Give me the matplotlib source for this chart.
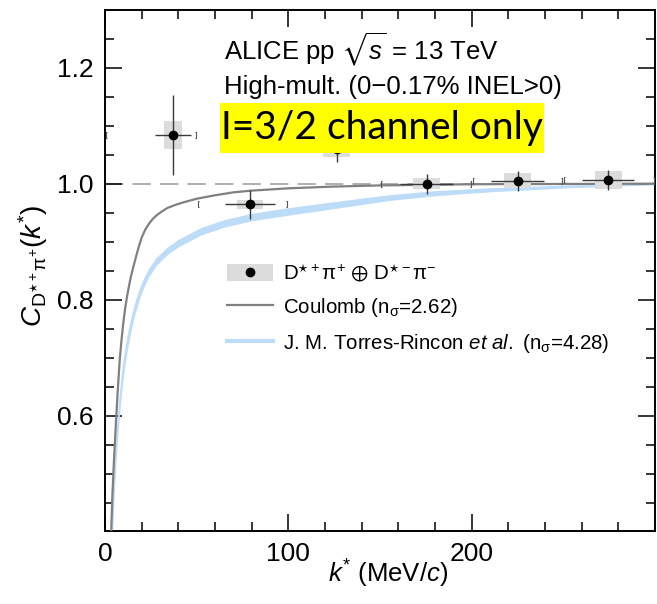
import numpy as np
import matplotlib
matplotlib.use("Agg")
import matplotlib.pyplot as plt
from matplotlib.patches import Rectangle
from matplotlib.path import Path
from matplotlib.lines import Line2D

plt.rcParams['font.family'] = ['Liberation Sans', 'DejaVu Sans']
plt.rcParams['mathtext.fontset'] = 'custom'
plt.rcParams['mathtext.rm'] = 'Liberation Sans'
plt.rcParams['mathtext.it'] = 'Liberation Sans:italic'
plt.rcParams['mathtext.bf'] = 'Liberation Sans:bold'
plt.rcParams['mathtext.sf'] = 'Liberation Sans'
plt.rcParams['mathtext.fallback'] = 'stixsans'

# measured D*+pi+ (+) D*-pi- correlation
k_pts = [37.0, 79.1, 126.4, 175.4, 225.0, 274.5]
c_pts = [1.084, 0.9645, 1.060, 0.9995, 1.0047, 1.0064]
stat_y = [0.069, 0.025, 0.022, 0.018, 0.0165, 0.018]
stat_x = [9.7, 13.8, 14.0, 14.5, 14.3, 14.3]
syst_y = [0.024, 0.008, 0.014, 0.0095, 0.013, 0.016]
syst_x = [4.9, 7.0, 7.5, 7.5, 7.4, 7.3]
bin_lo = [0, 50, 100, 150, 200, 250]
bin_hi = [50, 100, 150, 200, 250, 300]

# Coulomb-only prediction
k_coul = [3.4, 4, 5, 6, 7, 8, 9, 10, 11, 12, 13, 14, 15.5, 17, 18.5, 20, 22,
          24, 26, 28, 31, 34, 38, 43, 50, 60, 70, 80, 100, 125, 150, 200, 300]
c_coul = [0.400, 0.460, 0.530, 0.590, 0.645, 0.695, 0.730, 0.760, 0.785,
          0.805, 0.822, 0.838, 0.857, 0.875, 0.892, 0.907, 0.921, 0.931,
          0.939, 0.945, 0.952, 0.958, 0.963, 0.968, 0.974, 0.980, 0.985,
          0.988, 0.992, 0.995, 0.997, 0.999, 1.0]

# Torres-Rincon et al. band
k_band = [3.6, 4.2, 5, 6, 7, 8, 9, 10, 11, 12, 13, 14, 15.5, 17, 19, 21, 24,
          28, 33.7, 40, 52, 65, 80, 101, 125, 155, 180, 210, 254, 300]
band_hi = [0.41, 0.47, 0.52, 0.57, 0.61, 0.645, 0.675, 0.70, 0.72, 0.738,
           0.754, 0.768, 0.787, 0.803, 0.822, 0.837, 0.855, 0.873, 0.890,
           0.904, 0.924, 0.938, 0.949, 0.959, 0.969, 0.981, 0.988, 0.993,
           0.998, 1.0]
band_lo = [0.35, 0.40, 0.46, 0.52, 0.565, 0.605, 0.638, 0.666, 0.689, 0.709,
           0.727, 0.743, 0.764, 0.782, 0.803, 0.820, 0.840, 0.859, 0.877,
           0.891, 0.911, 0.925, 0.936, 0.946, 0.957, 0.971, 0.979, 0.986,
           0.993, 0.998]

fig = plt.figure(figsize=(6.57, 6.04), dpi=100)
ax = fig.add_axes([105/657, 1-531/604, 550/657, 521/604])

ax.fill_between(k_band, band_lo, band_hi, color='#bddcf8', lw=0, zorder=2)
ax.plot(k_coul, c_coul, color='#808080', lw=1.6, zorder=3)
ax.axhline(1.0, color='#9a9a9a', lw=1.1, dashes=(12, 6), zorder=1)

# systematic boxes
for k, c, sx, sy in zip(k_pts, c_pts, syst_x, syst_y):
    ax.add_patch(Rectangle((k - sx, c - sy), 2*sx, 2*sy, facecolor='#dcdcdc',
                           edgecolor='none', zorder=4))
ax.errorbar(k_pts, c_pts, xerr=stat_x, yerr=stat_y, fmt='o', color='black',
            ms=6, ecolor='#3a3a3a', elinewidth=1.0, capsize=0, zorder=5)

# small brackets at the bin edges
lbr = Path([(0.4, -1), (0, -1), (0, 1), (0.4, 1)],
           [Path.MOVETO, Path.LINETO, Path.LINETO, Path.LINETO])
rbr = Path([(-0.4, -1), (0, -1), (0, 1), (-0.4, 1)],
           [Path.MOVETO, Path.LINETO, Path.LINETO, Path.LINETO])
ax.plot(np.array(bin_lo) + 0.6, c_pts, ls='none', marker=lbr, ms=4,
        mec='#555555', mfc='none', mew=0.8, zorder=4)
ax.plot(np.array(bin_hi) - 0.6, c_pts, ls='none', marker=rbr, ms=4,
        mec='#555555', mfc='none', mew=0.8, zorder=4)

ax.set_xlim(0, 300)
ax.set_ylim(0.401, 1.2995)
ax.set_xticks([0, 100, 200])
ax.set_xticks(np.arange(0, 300, 20), minor=True)
ax.set_yticks([0.6, 0.8, 1.0, 1.2])
ax.set_yticks(np.arange(0.45, 1.3, 0.05), minor=True)
ax.yaxis.set_major_formatter(plt.FormatStrFormatter('%.1f'))
ax.tick_params(which='both', direction='in', top=True, right=True,
               labelsize=19, width=1.1)
ax.tick_params(which='major', length=12, pad=8)
ax.tick_params(which='minor', length=6.5)
for s in ax.spines.values():
    s.set_linewidth(1.4)

ax.set_xlabel(r'$k^{*}$ (MeV/$c$)', fontsize=18.5)
ax.xaxis.set_label_coords(0.514, -0.052, transform=ax.transAxes)
ax.xaxis.label.set_va('top')
ax.set_ylabel(r'$C_{\mathrm{D}^{\star +}\mathrm{\pi}^{+}}(k^{*})$', fontsize=20)
ax.yaxis.set_label_coords(-0.1, 0.51)

fig.text(224/657, 1-50/604, r'ALICE pp $\sqrt{s}$ = 13 TeV', fontsize=18.5,
         va='center')
fig.text(224/657, 1-87/604, 'High-mult. (0\u22120.17% INEL>0)', fontsize=18.5,
         va='center')

# yellow note
fig.patches.append(Rectangle((220/657, 1-153/604), 324/657, 50/604,
                             transform=fig.transFigure, facecolor='#ffff00',
                             edgecolor='none', zorder=10))
fig.text(382/657, 1-128/604, 'I=3/2 channel only', family='Lato', fontsize=28,
         ha='center', va='center', zorder=11)

h_data = (Rectangle((0, 0), 1, 1, facecolor='#dcdcdc', edgecolor='none'),
          Line2D([], [], ls='none', marker='o', color='black', ms=6))
h_coul = Line2D([], [], color='#808080', lw=1.6)
h_tr = Line2D([], [], color='#bddcf8', lw=3)
ax.legend([h_data, h_coul, h_tr],
          [r'D$^{\star +}\mathrm{\pi}^{+}$ $\oplus$ D$^{\star -}\mathrm{\pi}^{-}$',
           r'Coulomb (n$_{\mathrm{\sigma}}$=2.62)',
           r'J. M. Torres-Rincon $et\ al.$ (n$_{\mathrm{\sigma}}$=4.28)'],
          loc='upper left', bbox_to_anchor=(0.222, 0.518), frameon=False,
          fontsize=14.8, handlelength=2.23, handleheight=0.92,
          handletextpad=0.5, labelspacing=0.6, borderpad=0, borderaxespad=0)

fig.savefig('out.png', dpi=100)
